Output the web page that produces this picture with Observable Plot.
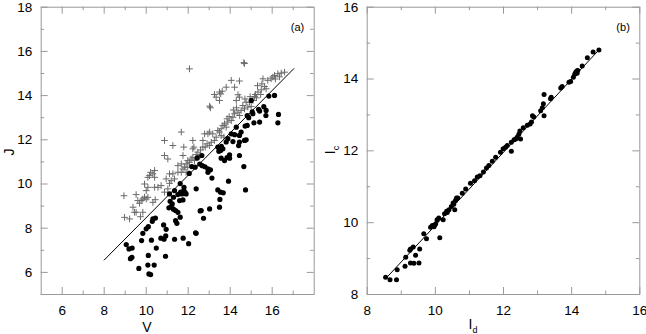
<!DOCTYPE html>
<html>
<head>
<meta charset="utf-8">
<script src="https://cdn.jsdelivr.net/npm/d3@7"></script>
<script src="https://cdn.jsdelivr.net/npm/@observablehq/plot@0.6"></script>
<style>
  html, body { margin: 0; padding: 0; background: #fff; }
  #wrap { position: relative; width: 646px; height: 334px; overflow: hidden; background: #fff; }
  #wrap > div { position: absolute; top: 0; }
  svg { overflow: visible; }
</style>
</head>
<body>
<div id="wrap"><div id="pa" style="left:0px"></div><div id="pb" style="left:320px"></div></div>
<script>
// ---------- Panel (a): J vs V ----------
const dotsA = [
  [9.05,7.26],[9.18,7.06],[9.33,7.10],[9.25,6.62],[9.32,6.68],[9.65,6.18],[10.13,5.93],[10.21,5.90],[10.08,6.33],[10.38,6.33],
  [10.10,6.77],[10.92,6.73],[9.78,7.44],[9.84,7.77],[10.00,7.97],[10.10,8.07],[10.32,8.42],[10.44,8.46],[10.29,8.31],[10.25,7.46],
  [10.48,7.10],[10.70,7.55],[10.85,7.50],[10.83,8.15],[10.95,7.95],[10.93,7.65],[11.35,7.50],[11.76,7.55],[12.02,7.30],[12.38,7.77],
  [11.08,8.92],[11.14,9.22],[11.19,8.98],[11.24,9.10],[11.30,8.86],[11.40,8.80],[11.51,8.72],[11.30,9.40],[11.11,9.55],[11.35,9.70],
  [11.51,9.52],[11.64,9.63],[11.79,9.70],[11.90,9.55],[11.75,9.28],[11.59,9.25],[11.40,8.34],[11.46,8.22],[11.62,8.50],[11.62,10.02],
  [11.80,9.85],[11.85,9.62],[11.70,9.55],
  [12.17,10.79],[12.33,10.76],[12.43,11.18],[12.65,11.29],[12.67,10.83],[12.38,9.78],[12.94,10.68],[13.06,10.64],[12.94,10.53],[13.13,10.27],
  [13.02,8.87],[12.73,8.45],[12.57,8.78],[12.62,8.80],[12.35,7.79],[12.05,10.48],[12.55,10.90],[12.80,10.78],
  [13.41,9.73],[13.54,9.63],[13.51,9.30],[13.49,8.95],[13.67,9.60],[13.92,10.13],[13.73,11.06],[13.57,11.17],[13.97,11.17],[13.97,11.32],
  [13.41,11.67],[13.54,11.52],[13.65,11.59],[13.48,11.58],[13.58,11.70],[13.46,11.48],[13.81,11.90],[13.89,12.05],[14.13,11.92],[14.21,12.23],
  [13.85,11.20],[13.55,11.62],
  [14.44,11.29],[14.44,12.20],[14.52,12.35],[14.44,11.90],[14.68,11.97],[14.76,12.00],[14.29,12.57],[14.71,12.62],[14.81,12.65],[14.81,13.10],
  [14.65,10.79],[14.73,9.73],[14.88,13.00],[15.00,13.78],[14.40,11.74],[14.05,12.27],
  [15.08,13.18],[15.05,13.26],[15.35,13.38],[15.40,13.30],[15.71,13.33],[15.70,13.10],[15.40,12.80],[15.13,12.77],[16.30,13.15],[16.27,12.77],
  [15.84,13.98],[16.11,14.01],[15.60,13.50]
];
const crossesA = [
  [12.06,15.21],[14.65,15.49],[14.68,15.45],
  [14.05,14.69],[14.44,14.66],[13.62,14.20],[13.81,14.38],[14.21,14.38],[13.49,14.16],[13.55,14.08],[13.25,14.05],[13.49,13.78],[13.33,13.93],
  [13.02,13.52],[13.06,13.45],[14.44,13.93],[14.29,13.78],[14.37,14.04],
  [16.59,15.06],[16.43,15.02],[16.27,14.99],[16.11,14.91],[16.03,14.84],[15.95,14.76],[15.79,14.69],[15.56,14.76],[15.51,14.53],[15.63,14.41],
  [15.71,14.31],[15.48,14.26],[15.32,14.16],[15.20,14.05],[15.25,13.90],[15.08,13.78],[15.16,13.96],[14.92,13.70],[14.76,13.70],[15.00,13.51],
  [14.84,13.48],[14.68,13.40],[14.52,13.33],[14.37,13.25],[14.21,13.18],[14.13,13.02],[14.05,12.87],[13.89,12.80],[13.73,12.72],[13.65,12.65],
  [13.81,12.57],[13.57,12.50],[13.49,12.35],[13.41,12.42],[13.57,12.19],[13.70,12.12],[13.33,12.12],[13.25,11.97],[13.10,11.89],[13.02,11.74],
  [12.90,11.82],[12.81,11.67],[12.70,11.67],[12.70,11.97],[12.78,12.27],[12.94,12.27],[13.17,12.27],[13.02,12.35],[12.22,11.97],[12.27,11.67],
  [12.59,11.54],[12.46,11.44],[12.56,11.29],[12.38,11.33],[12.22,11.21],[12.30,11.06],[12.14,11.13],[12.06,10.98],[11.98,11.06],[11.90,10.91],
  [11.98,10.76],[11.83,10.76],[11.75,10.68],[11.67,10.53],[11.90,10.53],[11.51,10.53],[11.51,10.83],[11.67,10.91],[11.75,11.29],[11.79,11.67],
  [11.67,12.35],[12.22,11.59],[11.27,11.74],[10.87,11.97],[10.87,11.29],[11.03,11.13],[11.11,10.46],[11.27,10.46],[11.35,10.23],[11.19,10.15],
  [11.11,10.03],[10.95,10.23],[11.03,9.78],[10.87,9.63],[10.71,9.93],[10.56,9.85],[10.40,9.85],[10.40,10.30],[10.32,10.46],[10.40,10.61],
  [10.16,10.38],[10.21,10.53],[10.08,10.30],[9.92,10.00],[10.00,9.70],[10.08,9.85],[9.92,9.40],[9.84,9.32],[10.00,9.32],[9.76,9.25],
  [10.08,9.40],[9.68,9.13],[9.60,9.25],[9.52,9.52],[9.52,8.72],[9.44,8.72],[9.84,8.72],[9.37,8.95],[8.94,9.47],[8.97,8.49],
  [9.21,8.42],[9.73,8.52],[10.32,9.17],[10.43,9.29],
  [14.60,13.55],[14.30,13.45],[14.15,13.35],[14.45,13.10],[13.95,13.05],[14.70,13.85],[14.95,13.95],[15.30,14.45],[15.45,14.05],[16.15,14.75],
  [16.35,14.85],[13.85,12.95]
];
const fitAX = [8.0, 17.03];
const fitAY = [6.56, 15.22];
const xMajorA = [6, 8, 10, 12, 14, 16];
const xMinorA = [7, 9, 11, 13, 15, 17];
const yMajorA = [6, 8, 10, 12, 14, 16, 18];
const yMinorA = [5, 7, 9, 11, 13, 15, 17];

// ---------- Panel (b): Ic vs Id ----------
const dotsB = [
  [8.54,8.48],[8.67,8.41],[8.86,8.41],[8.88,8.69],[9.11,8.79],[9.13,9.04],[9.25,9.23],[9.27,9.27],[9.35,9.32],[9.27,8.88],
  [9.37,8.87],[9.42,9.09],[9.52,8.88],[9.54,9.27],[9.66,9.69],[9.74,9.55],[9.86,9.87],[9.91,9.92],[9.96,9.89],[10.01,9.97],
  [10.05,10.08],[10.10,10.13],[10.13,9.58],[10.23,10.08],[10.27,10.25],[10.33,10.32],[10.40,10.36],[10.47,10.45],[10.54,10.51],[10.57,10.36],
  [10.59,10.62],[10.62,10.69],[10.66,10.69],[10.79,10.82],[10.89,10.94],[11.03,11.10],[11.15,11.17],[11.23,11.27],[11.31,11.31],[11.41,11.41],
  [11.50,11.52],[11.57,11.59],[11.67,11.71],[11.77,11.82],[11.91,11.96],[11.99,12.06],[12.06,12.10],[12.11,12.15],[12.23,11.99],[12.23,12.24],
  [12.31,12.31],[12.36,12.33],[12.40,12.38],[12.45,12.46],[12.48,12.55],[12.50,12.33],[12.58,12.64],[12.70,12.71],[12.78,12.75],[12.82,12.80],
  [12.85,12.98],[12.89,12.94],[13.09,13.12],[13.14,13.20],[13.17,13.31],[13.19,13.57],[13.19,12.98],[13.38,13.45],[13.40,13.49],[13.68,13.75],
  [13.72,13.79],[13.92,13.91],[13.97,13.93],[14.05,14.05],[14.09,14.13],[14.12,14.19],[14.15,14.22],[14.16,14.16],[14.18,14.24],[14.31,14.36],
  [14.46,14.59],[14.63,14.75],[14.80,14.81],[9.98,9.93],[10.52,10.55],[10.35,10.28]
];
const fitBX = [8.54, 14.80];
const fitBY = [8.44, 14.81];
const xMajorB = [8, 10, 12, 14, 16];
const xMinorB = [9, 11, 13, 15];
const yMajorB = [8, 10, 12, 14, 16];
const yMinorB = [9, 11, 13, 15];

const FONT = "'Liberation Sans', Arial, Helvetica, sans-serif";
const GRAY = "#999";

function panel({width, ml, mr, mt, mb, xd, yd, xMaj, xMin, yMaj, yMin, marks, tag}) {
  const H = 334 - mt - mb, W = width - ml - mr;
  const tk = (arr, axis, len) => axis === "x"
    ? [Plot.tickX(arr, {x: d => d, insetTop: H - len, stroke: GRAY}),
       Plot.tickX(arr, {x: d => d, insetBottom: H - len, stroke: GRAY})]
    : [Plot.tickY(arr, {y: d => d, insetRight: W - len, stroke: GRAY}),
       Plot.tickY(arr, {y: d => d, insetLeft: W - len, stroke: GRAY})];
  return Plot.plot({
    width, height: 334,
    marginLeft: ml, marginRight: mr, marginTop: mt, marginBottom: mb,
    x: {domain: xd}, y: {domain: yd},
    style: {fontFamily: FONT, fontSize: "13.5px", background: "transparent", color: "#000", overflow: "visible"},
    marks: [
      Plot.frame({stroke: GRAY}),
      ...tk(xMaj, "x", 7), ...tk(xMin, "x", 3.5),
      ...tk(yMaj, "y", 7), ...tk(yMin, "y", 3.5),
      Plot.axisX({ticks: xMaj, tickSize: 0, tickPadding: 11, tickFormat: d => String(d), label: null}),
      Plot.axisY({ticks: yMaj, tickSize: 0, tickPadding: 9, tickFormat: d => String(d), label: null}),
      ...marks,
      Plot.text([tag], {text: d => d, frameAnchor: "top-right", dx: -10, dy: 16, fontSize: 11, textAnchor: "end"})
    ]
  });
}

const lineA = fitAX.map((x, i) => ({x, y: fitAY[i]}));
const lineB = fitBX.map((x, i) => ({x, y: fitBY[i]}));

const chartA = panel({
  width: 330, ml: 40.7, mr: 16.3, mt: 6.7, mb: 40,
  xd: [5, 18], yd: [5, 18],
  xMaj: xMajorA, xMin: xMinorA, yMaj: yMajorA, yMin: yMinorA, tag: "(a)",
  marks: [
    Plot.dot(crossesA, {x: d => d[0], y: d => d[1], symbol: "plus", r: 2.3, stroke: "#6a6a6a", strokeWidth: 1}),
    Plot.line(lineA, {x: "x", y: "y", stroke: "#000", strokeWidth: 1}),
    Plot.dot(dotsA, {x: d => d[0], y: d => d[1], r: 2.6, fill: "#000", stroke: "none"})
  ]
});
const chartB = panel({
  width: 326, ml: 46.7, mr: 6.7, mt: 6.7, mb: 40,
  xd: [8, 16], yd: [8, 16],
  xMaj: xMajorB, xMin: xMinorB, yMaj: yMajorB, yMin: yMinorB, tag: "(b)",
  marks: [
    Plot.line(lineB, {x: "x", y: "y", stroke: "#000", strokeWidth: 1}),
    Plot.dot(dotsB, {x: d => d[0], y: d => d[1], r: 2.5, fill: "#000", stroke: "none"})
  ]
});
document.getElementById("pa").appendChild(chartA);
document.getElementById("pb").appendChild(chartB);

// axis titles
function addText(svg, x, y, rotate, main, sub, size) {
  const t = d3.select(svg).append("text")
    .attr("transform", `translate(${x},${y})` + (rotate ? " rotate(-90)" : ""))
    .attr("text-anchor", "middle")
    .attr("font-family", FONT).attr("font-size", size).attr("fill", "#000");
  t.append("tspan").text(main);
  if (sub) t.append("tspan").attr("dy", 4).attr("font-size", 9).text(sub);
}
addText(chartA, 147, 332, false, "V", null, 14);
addText(chartA, 14, 152, true, "J", null, 14);
addText(chartB, 153, 329, false, "I", "d", 14);
addText(chartB, 15, 150, true, "I", "c", 14);
</script>
</body>
</html>
